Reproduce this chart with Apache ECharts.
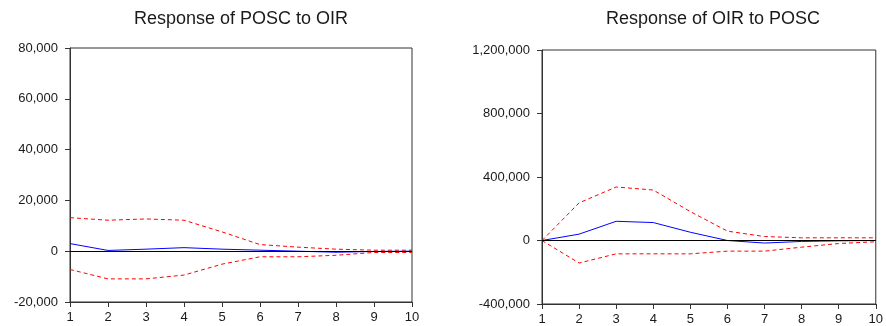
<!DOCTYPE html>
<html>
<head>
<meta charset="utf-8">
<script src="https://cdn.jsdelivr.net/npm/echarts@6/dist/echarts.min.js"></script>
<style>
  html, body { margin: 0; padding: 0; background: #fff; }
  #chart { width: 886px; height: 326px; }
</style>
</head>
<body>
<div id="chart"></div>
<script>
// periods
const periods = [1, 2, 3, 4, 5, 6, 7, 8, 9, 10];

// Response of POSC to OIR
const poscResp = [3000, 300, 800, 1400, 800, 400, 0, -400, -100, 0];
const poscUpper = [13200, 12200, 12700, 12200, 7600, 2600, 1600, 800, 400, 400];
const poscLower = [-7200, -10900, -10900, -9400, -5100, -2200, -2200, -1600, -500, -500];

// Response of OIR to POSC
const oirResp = [0, 40000, 121000, 113000, 52000, 0, -16000, -6000, -2000, 0];
const oirUpper = [0, 237000, 337000, 318000, 182000, 59000, 25000, 17000, 17000, 17000];
const oirLower = [0, -142000, -84000, -84000, -84000, -67000, -67000, -42000, -19000, -8000];

const titles = ['Response of POSC to OIR', 'Response of OIR to POSC'];

const pair = (ys) => periods.map((p, i) => [p, ys[i]]);
const fmt = (v) => v.toLocaleString('en-US');
const frame = '#333';
const textColor = '#1a1a1a';
const font = 'Arial, Liberation Sans';

function xAxisFor(idx) {
  return {
    type: 'value',
    gridIndex: idx,
    min: 1,
    max: 10,
    interval: 1,
    axisLine: { show: true, onZero: false, lineStyle: { color: frame } },
    axisTick: { show: true, inside: false, length: 5, lineStyle: { color: frame } },
    axisLabel: { color: textColor, fontSize: 13, fontFamily: font, margin: 9 },
    splitLine: { show: false }
  };
}

function yAxisFor(idx, min, max, interval) {
  return {
    type: 'value',
    gridIndex: idx,
    min: min,
    max: max,
    interval: interval,
    axisLine: { show: true, lineStyle: { color: frame } },
    axisTick: { show: true, inside: false, length: 5, lineStyle: { color: frame } },
    axisLabel: { color: textColor, fontSize: 13, fontFamily: font, margin: 12, formatter: fmt },
    splitLine: { show: false }
  };
}

function respSeries(idx, data) {
  return {
    type: 'line',
    xAxisIndex: idx,
    yAxisIndex: idx,
    data: pair(data),
    symbol: 'none',
    lineStyle: { color: '#0000ff', width: 1 },
    z: 3,
    markLine: {
      silent: true,
      symbol: 'none',
      label: { show: false },
      lineStyle: { color: '#000', type: 'solid', width: 1 },
      data: [{ yAxis: 0 }]
    }
  };
}

function bandSeries(idx, data) {
  return {
    type: 'line',
    xAxisIndex: idx,
    yAxisIndex: idx,
    data: pair(data),
    symbol: 'none',
    lineStyle: { color: '#ff0000', width: 1, type: [4, 3] },
    z: 2
  };
}

const chart = echarts.init(document.getElementById('chart'));

chart.setOption({
  animation: false,
  title: [
    {
      text: titles[0], left: 236, top: 5, textAlign: 'center',
      textStyle: { fontSize: 18, fontWeight: 'normal', color: textColor, fontFamily: font }
    },
    {
      text: titles[1], left: 708, top: 5, textAlign: 'center',
      textStyle: { fontSize: 18, fontWeight: 'normal', color: textColor, fontFamily: font }
    }
  ],
  grid: [
    { left: 70, top: 48, width: 342, height: 254, show: true, borderColor: frame, borderWidth: 1, backgroundColor: 'transparent' },
    { left: 542, top: 50, width: 341, height: 254, show: true, borderColor: frame, borderWidth: 1, backgroundColor: 'transparent' }
  ],
  xAxis: [xAxisFor(0), xAxisFor(1)],
  yAxis: [
    yAxisFor(0, -20000, 80000, 20000),
    yAxisFor(1, -400000, 1200000, 400000)
  ],
  series: [
    respSeries(0, poscResp),
    bandSeries(0, poscUpper),
    bandSeries(0, poscLower),
    respSeries(1, oirResp),
    bandSeries(1, oirUpper),
    bandSeries(1, oirLower)
  ]
});
</script>
</body>
</html>
